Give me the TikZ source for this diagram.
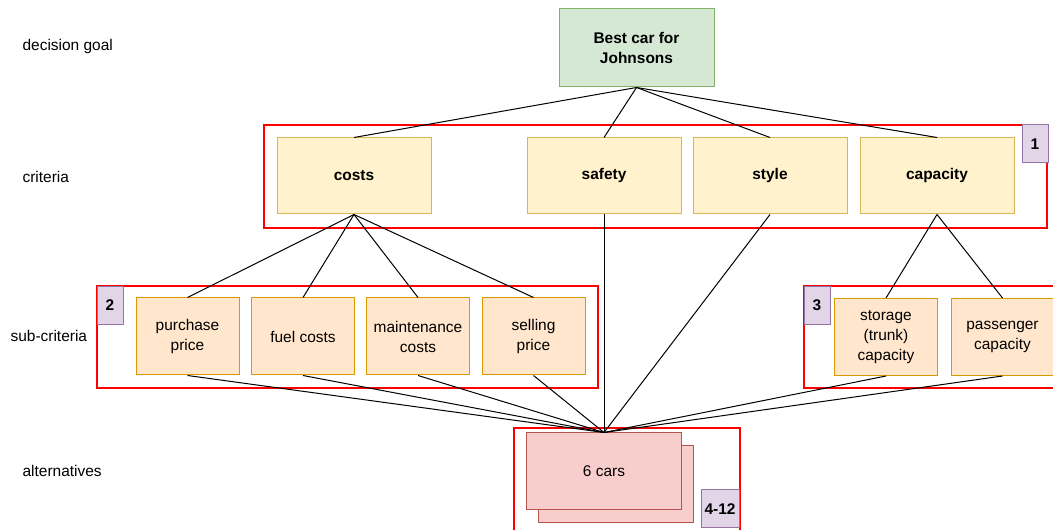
\documentclass[tikz,border=0pt]{standalone}
\usepackage{fontspec}
\setmainfont{Liberation Sans}
\definecolor{goalfill}{HTML}{D5E8D4}
\definecolor{goaldraw}{HTML}{82B366}
\definecolor{critfill}{HTML}{FFF2CC}
\definecolor{critdraw}{HTML}{D6B656}
\definecolor{subfill}{HTML}{FFE6CC}
\definecolor{subdraw}{HTML}{D79B00}
\definecolor{altfill}{HTML}{F8CECC}
\definecolor{altdraw}{HTML}{B85450}
\definecolor{tagfill}{HTML}{E1D5E7}
\definecolor{tagdraw}{HTML}{9673A6}
\begin{document}
\begin{tikzpicture}[x=0.75pt,y=-0.75pt,
	every node/.style={font=\fontsize{11.6}{15}\selectfont,align=center,inner sep=1pt},
	box/.style={draw,line width=0.75pt,minimum width=115.5pt,minimum height=57pt},
	goal/.style={box,fill=goalfill,draw=goaldraw,minimum width=116.25pt,minimum height=58.5pt,font=\fontsize{11.6}{15}\selectfont\bfseries},
	crit/.style={box,fill=critfill,draw=critdraw,font=\fontsize{11.6}{15}\selectfont\bfseries},
	sub/.style={box,fill=subfill,draw=subdraw,minimum width=77.25pt,minimum height=57.75pt},
	alt/.style={box,fill=altfill,draw=altdraw,minimum width=116.25pt,minimum height=57.75pt},
	tag/.style={draw=tagdraw,fill=tagfill,line width=0.75pt,minimum width=19.5pt,minimum height=28.5pt,font=\fontsize{11.6}{15}\selectfont\bfseries},
	frame/.style={draw=red,line width=1.5pt},
	level/.style={anchor=west},
	link/.style={line width=0.75pt}]
\useasboundingbox (0,0) rectangle (1053,530);
\node[level] (lgoal) at (21,47) {decision goal};
\node[level] (lcrit) at (21,177) {criteria};
\node[level] (lsub) at (9,336) {sub-criteria};
\node[level] (lalt) at (21,471) {alternatives};
\draw[frame] (264,125) rectangle (1047,228);
\draw[frame] (97,286) rectangle (598,388);
\draw[frame] (804,286) rectangle (1060,388);
\draw[frame] (514,428) rectangle (740,535);
\node[goal] (best) at (636.5,48) {Best car for\\Johnsons};
\node[crit] (costs) at (354,176) {costs};
\node[crit] (safety) at (604,176) {safety};
\node[crit] (style) at (770,176) {style};
\node[crit] (capacity) at (937,176) {capacity};
\node[sub] (purchase) at (187.5,336.5) {purchase\\price};
\node[sub] (fuel) at (303,336.5) {fuel costs};
\node[sub] (maint) at (418,336.5) {maintenance\\costs};
\node[sub] (selling) at (533.5,336.5) {selling\\price};
\node[sub] (storage) at (886,337) {storage\\(trunk)\\capacity};
\node[sub] (passenger) at (1002.5,337) {passenger\\capacity};
\node[alt] (carsback) at (616,484.5) {};
\node[alt] (cars) at (604,471.5) {6 cars};
\node[tag] (tag1) at (1035,144) {1};
\node[tag] (tag2) at (110,305.5) {2};
\node[tag] (tag3) at (817,305.5) {3};
\node[tag,minimum width=28.5pt] (tag4) at (720,509) {4-12};
\foreach \c in {costs,safety,style,capacity}
	\draw[link] (best.south) -- (\c.north);
\foreach \s in {purchase,fuel,maint,selling}
	\draw[link] (costs.south) -- (\s.north);
\foreach \s in {storage,passenger}
	\draw[link] (capacity.south) -- (\s.north);
\foreach \s in {safety,style,purchase,fuel,maint,selling,storage,passenger}
	\draw[link] (cars.north) -- (\s.south);
\end{tikzpicture}
\end{document}
